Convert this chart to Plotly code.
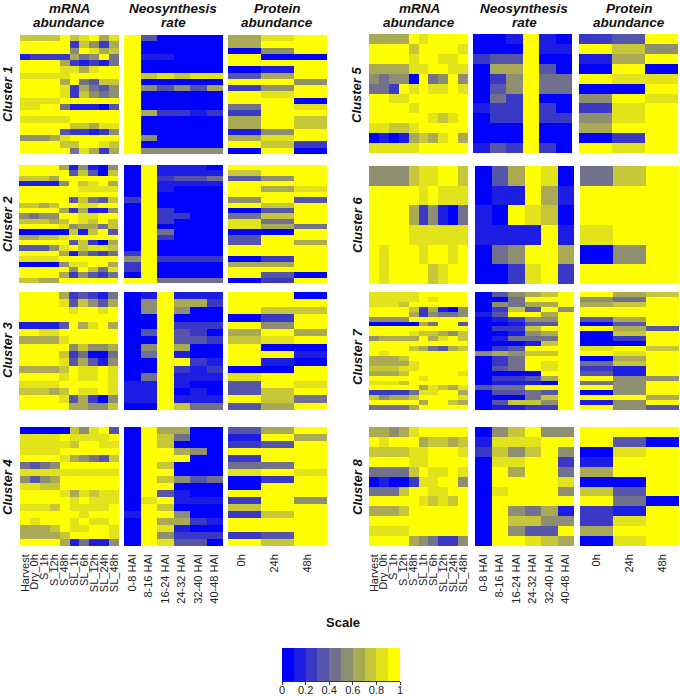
import plotly.graph_objects as go

W, H = 680, 696
MRNA_LABELS = ["Harvest", "Dry_0h", "S_1h", "S_12h", "S_48h", "SL_1h", "SL_6h", "SL_12h", "SL_24h", "SL_48h"]
NEO_LABELS = ["0-8 HAI", "8-16 HAI", "16-24 HAI", "24-32 HAI", "32-40 HAI", "40-48 HAI"]
PROT_LABELS = ["0h", "24h", "48h"]
SCALE_TICKS = [0, 0.2, 0.4, 0.6, 0.8, 1]
SCALE_BINS = [0.05, 0.15, 0.25, 0.35, 0.45, 0.55, 0.65, 0.75, 0.85, 0.95]
# every digit is the colour bin a cell falls into (0 = 0-0.1 ... 9 = 0.9-1)
C1_MRNA = ["7777978968","9999927526","9999959867","1222264594","9999621214","9999886899","8888899999","9999694377","9999826435","9999827545",
           "8888999999","8899411103","9999999999","8888899999","9999977688","9999322125","5556899999","9999779987","9999948626"]
C1_NEO = ["930000","900000","900000","911000","900000","900000","978788","900000","953536","900000",
          "900000","900000","962212","900000","900000","900000","950000","900000","955555"]
C1_PROT = ["689","699","059","900","999","019","369","995","259","989","990","498","299","697","697","159","689","972","090"]
C2_MRNA = ["9999615105","9999937307","7776999999","1111597896","9999998888","9999999999","9999937437","7767998899","9999626115","5455998899",
           "7776798797","9999856647","0000071793","6677899999","9999937206","3335897887","9999615324","8888999999","0000588996","9999959748",
           "9999625324","7766999999"]
C2_NEO = ["091110","091111","092334","091111","091000","090000","290000","090000","092000","092200",
          "092000","090000","094000","092000","090000","090000","290000","592222","290000","290000",
          "090000","994444"]
C2_PROT = ["999","799","359","999","968","999","593","979","039","479","849","864","009","399","396","999","999","029","669","999","930","029"]
C3_MRNA = ["9999623214","9999837536","9999989989","9999999999","1111396896","9988999999","6666899999","9999957556","9999724004","9999836315",
           "6666798898","9999898898","8888999998","7776798898","9999836205","9999966557"]
C3_NEO = ["019111","059662","059500","009000","009222","039320","009332","059600","049100","009921",
          "009212","049111","119100","119010","119111","009744"]
C3_PROT = ["990","999","977","029","959","696","789","900","991","910","009","899","398","379","974","369"]
C4_MRNA = ["0000075893","8888988889","8888879988","8888999999","9999865437","4345999999","8888888888","5356999999","8877999999","9999868788",
           "9999989888","8887988889","9999998999","9899989889","6667988998","6666799998","9999614115"]
C4_NEO = ["096600","097400","097000","099650","099900","097000","099000","097534","099000","093100",
          "089111","097000","199500","096621","098100","095222","098330"]
C4_PROT = ["369","196","239","999","299","449","898","029","099","999","295","799","279","999","999","239","979"]
C5_MRNA = ["6666989999","9999799998","9999899889","6666889988","5455094595","4429898898","9988999999","9999899999","9999998789","8877899999",
           "0101676896","8888899999"]
C5_NEO = ["001910","000911","233900","066930","025944","035944","042900","122920","022922","000900","000900","132920"]
C5_PROT = ["239","975","169","090","988","009","598","289","589","699","029","989"]
C6_MRNA = ["5555788997","9999989888","9999625104","9999888888","9899989989","9899997899"]
C6_NEO = ["036980","011961","109870","111191","045996","002892"]
C6_PROT = ["479","999","999","899","059","999"]
C7_MRNA = ["8888899999","8888898999","8887999999","9999726105","9999625445","5555999999","0000064993","9999999999","9999877657","5666696897",
           "9999999999","9999764367","9899999999","6667999999","6666899999","7778899999","6667999998","9999989999","8887999999","9999968768",
           "2222488996","7566799998","9999969976","4444699999"]
C7_NEO = ["035679","004999","054669","027395","139969","012559","001339","022799","001569","014449",
          "000179","023999","565779","024999","024989","034989","000099","022369","011109","344999",
          "033439","000479","037759","011229"]
C7_PROT = ["967","549","679","999","999","369","039","963","079","029","009","897","989","069","479","219","319","955","459","959","059","996","159","953"]
C8_MRNA = ["6656899999","9899967767","7777889998","9999889999","4444798898","0100288995","4447998899","9999987879","6667999999","9999999999",
           "8888999999","9999654225"]
C8_NEO = ["057955","188899","275795","088992","096994","099998","089995","099999","095461","097755","095339","099876"]
C8_PROT = ["999","930","089","199","699","009","739","940","219","289","699","089"]

COLORS = ["#0000ff", "#1c1ce3", "#3939c6", "#5555aa", "#71718e", "#8e8e71", "#aaaa55", "#c6c639", "#e3e31c", "#ffff00"]
STEPPED = []
for i, c in enumerate(COLORS):
    STEPPED += [[i / 10, c], [(i + 1) / 10, c]]
FONT = "Liberation Sans, Arial, sans-serif"

# pixel layout per cluster: name, top, bottom, mRNA x0, neo x0, protein x0, label x, label y
CLUSTERS = [
    ("Cluster 1", 35, 154, 20, 124, 228, 7, 94, C1_MRNA, C1_NEO, C1_PROT),
    ("Cluster 2", 165, 283, 19, 124, 228, 7, 224, C2_MRNA, C2_NEO, C2_PROT),
    ("Cluster 3", 292, 410, 19, 124, 228, 7, 350, C3_MRNA, C3_NEO, C3_PROT),
    ("Cluster 4", 427, 546, 20, 124, 228, 7, 487, C4_MRNA, C4_NEO, C4_PROT),
    ("Cluster 5", 34, 153, 369, 473, 579, 357, 95, C5_MRNA, C5_NEO, C5_PROT),
    ("Cluster 6", 166, 284, 369, 475, 580, 357, 225, C6_MRNA, C6_NEO, C6_PROT),
    ("Cluster 7", 292, 410, 369, 475, 580, 357, 357, C7_MRNA, C7_NEO, C7_PROT),
    ("Cluster 8", 427, 546, 369, 475, 580, 357, 487, C8_MRNA, C8_NEO, C8_PROT),
]
PANEL_W = 99

fig = go.Figure()
layout = {}
annotations = []
n = 0


def px_x(x):
    return x / W


def px_y(y):
    return 1 - y / H


def add_panel(rows, labels, x0, top, bottom, show_labels, tick_shift=0.0):
    global n
    n += 1
    z = [[(int(ch) + 0.5) / 10 for ch in r] for r in rows]
    fig.add_trace(go.Heatmap(z=z, x=list(range(len(labels))), y=list(range(len(rows))), zmin=0, zmax=1, colorscale=STEPPED,
                             showscale=False, hoverongaps=False, xaxis=f"x{n}", yaxis=f"y{n}"))
    layout[f"xaxis{n}"] = dict(domain=[px_x(x0), px_x(x0 + PANEL_W)], anchor=f"y{n}", range=[-0.5, len(labels) - 0.5],
                               tickmode="array", tickvals=[i + tick_shift for i in range(len(labels))],
                               ticktext=labels if show_labels else [],
                               showticklabels=show_labels, tickangle=-90, ticks="", showgrid=False, zeroline=False,
                               automargin=False, ticklabelstandoff=5,
                               tickfont=dict(family=FONT, size=11, color="#222"), ticklen=0)
    layout[f"yaxis{n}"] = dict(domain=[px_y(bottom), px_y(top)], anchor=f"x{n}", range=[len(rows) - 0.5, -0.5], automargin=False,
                               showticklabels=False, ticks="", showgrid=False, zeroline=False)


for name, top, bottom, xm, xn, xp, lx, ly, mr, ne, pr in CLUSTERS:
    bottom_row = name in ("Cluster 4", "Cluster 8")
    add_panel(mr, MRNA_LABELS, xm, top, bottom, bottom_row)
    add_panel(ne, NEO_LABELS, xn, top, bottom, bottom_row)
    add_panel(pr, PROT_LABELS, xp, top, bottom, bottom_row, tick_shift=-0.09 if name == "Cluster 4" else 0.0)
    annotations.append(dict(text=f"<b><i>{name}</i></b>", x=px_x(lx), y=px_y(ly), xref="paper", yref="paper", showarrow=False,
                            textangle=-90, xanchor="center", yanchor="middle", font=dict(family=FONT, size=13, color="#111")))

for cx, line1, line2 in ((69, "mRNA", "abundance"), (173, "Neosynthesis", "rate"), (277, "Protein", "abundance"),
                         (419, "mRNA", "abundance"), (524, "Neosynthesis", "rate"), (629, "Protein", "abundance")):
    annotations.append(dict(text=f"<b><i>{line1}</i></b>", x=px_x(cx), y=1, xref="paper", yref="paper", showarrow=False,
                            xanchor="center", yanchor="top", borderpad=0, font=dict(family=FONT, size=13.5, color="#111")))
    annotations.append(dict(text=f"<b><i>{line2}</i></b>", x=px_x(cx), y=px_y(22), xref="paper", yref="paper", showarrow=False,
                            xanchor="center", yanchor="middle", borderpad=0, font=dict(family=FONT, size=13.5, color="#111")))

annotations.append(dict(text="<b>Scale</b>", x=px_x(343), y=px_y(622), xref="paper", yref="paper", showarrow=False,
                        xanchor="center", yanchor="middle", font=dict(family=FONT, size=13, color="#111")))

n += 1
fig.add_trace(go.Heatmap(z=[SCALE_BINS], x=SCALE_BINS, y=[0], zmin=0, zmax=1, colorscale=STEPPED, showscale=False,
                         xaxis=f"x{n}", yaxis=f"y{n}"))
layout[f"xaxis{n}"] = dict(domain=[px_x(282), px_x(400)], anchor=f"y{n}", range=[0, 1], tickmode="array", tickvals=SCALE_TICKS,
                           ticktext=[str(t) for t in SCALE_TICKS], ticks="outside", ticklen=3, tickcolor="#333", showline=True,
                           linecolor="#333", linewidth=1, showgrid=False, zeroline=False, automargin=False,
                           ticklabelstandoff=-4,
                           tickfont=dict(family=FONT, size=11, color="#222"))
layout[f"yaxis{n}"] = dict(domain=[px_y(681), px_y(648)], anchor=f"x{n}", showticklabels=False, ticks="", showgrid=False,
                           zeroline=False, automargin=False)

fig.update_layout(width=W, height=H, margin=dict(l=0, r=0, t=0, b=0, pad=0), paper_bgcolor="white", plot_bgcolor="white",
                  showlegend=False, annotations=annotations, **layout)
fig.write_html("out.html", config={"displayModeBar": False},
               post_script="document.body.style.margin='0';document.documentElement.style.overflow='hidden';")
